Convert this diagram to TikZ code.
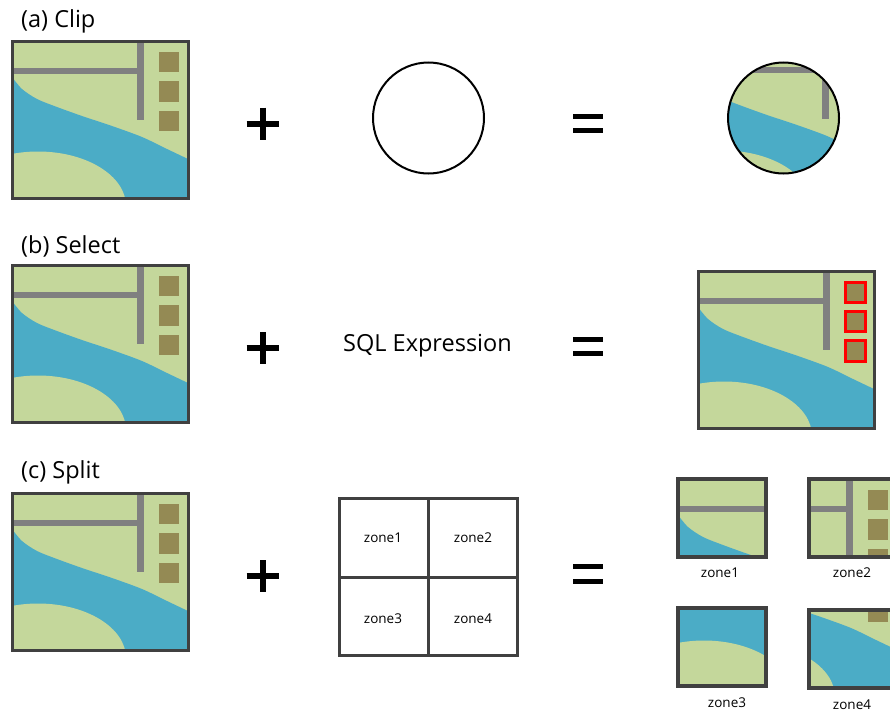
\documentclass[tikz,border=0pt]{standalone}
\usepackage{fontspec}
\setmainfont{Open Sans}
\definecolor{landgreen}{HTML}{C4D79B}
\definecolor{waterblue}{HTML}{4BACC6}
\definecolor{roadgray}{HTML}{808080}
\definecolor{bldgolive}{HTML}{948A54}
\definecolor{framegray}{HTML}{404040}

% One map tile, 176 x 157, origin at its top-left corner (y grows downward)
\newcommand\maptile{%
  \fill[landgreen] (0,0) rectangle (176,157);
  \fill[waterblue] (0,36) -- plot[smooth,tension=0.5] coordinates
    {(0,36) (10,48) (25,58) (45,66) (70,75) (100,85) (130,96)
     (155,108) (176,118)}
    -- (176,157) -- (0,157) -- cycle;
  \fill[landgreen] (26,165) ellipse [x radius=88, y radius=54.5];
  \fill[roadgray] (0,27) rectangle (132,33);
  \fill[roadgray] (125,0) rectangle (132,79);
  \fill[bldgolive] (147,11) rectangle (167,31);
  \fill[bldgolive] (147,40) rectangle (167,60.5);
  \fill[bldgolive] (147,69.5) rectangle (167,90);
}

\begin{document}
\begin{tikzpicture}[x=1pt,y=-1pt,
  tileframe/.style={draw=framegray,line width=3pt},
  zoneframe/.style={draw=framegray,line width=3.5pt},
  symbar/.style={line width=6pt,black},
  eqbar/.style={line width=5pt,black},
  title/.style={anchor=base west,inner sep=0pt,font=\fontsize{23.5}{28}\selectfont},
  zonelabel/.style={inner sep=0pt,font=\fontsize{13.5}{16}\selectfont},
  gridline/.style={draw=framegray,line width=3pt},
  pick/.style={draw=red,line width=3pt}]
\useasboundingbox (0,0) rectangle (890,712);

% ---------- (a) Clip ----------
\node[title] (titleA) at (21,27.3) {(a) Clip};
\begin{scope}[shift={(12,41)}]
  \clip (0,0) rectangle (176,157);
  \maptile
\end{scope}
\draw[tileframe] (12,41) rectangle ++(176,157);

\draw[symbar] (246.5,123.5) -- (278.5,123.5);
\draw[symbar] (262.5,107.5) -- (262.5,139.5);

\node[circle,draw=black,line width=2pt,minimum size=111pt,inner sep=0pt]
  (clipcircle) at (428.5,118) {};

\draw[eqbar] (573,116) -- (603,116);
\draw[eqbar] (573,130.5) -- (603,130.5);

\begin{scope}
  \clip (783.5,118) circle [radius=55.5];
  \begin{scope}[shift={(697,40)}]
    \maptile
  \end{scope}
\end{scope}
\draw[black,line width=2pt] (783.5,118) circle [radius=55.5];

% ---------- (b) Select ----------
\node[title] (titleB) at (21,253) {(b) Select};
\begin{scope}[shift={(12,265)}]
  \clip (0,0) rectangle (176,157);
  \maptile
\end{scope}
\draw[tileframe] (12,265) rectangle ++(176,157);

\draw[symbar] (246.5,348) -- (278.5,348);
\draw[symbar] (262.5,332) -- (262.5,364);

\node[anchor=base west,inner sep=0pt,font=\fontsize{23.5}{28}\selectfont]
  (sqlexpr) at (343,351.7) {SQL Expression};

\draw[eqbar] (573,339) -- (603,339);
\draw[eqbar] (573,353.5) -- (603,353.5);

\begin{scope}[shift={(698,271)}]
  \begin{scope}
    \clip (0,0) rectangle (176,157);
    \maptile
  \end{scope}
  \draw[pick] (147,11) rectangle (167,31);
  \draw[pick] (147,40) rectangle (167,60.5);
  \draw[pick] (147,69.5) rectangle (167,90);
\end{scope}
\draw[tileframe] (698,271) rectangle ++(176,157);

% ---------- (c) Split ----------
\node[title] (titleC) at (21,478) {(c) Split};
\begin{scope}[shift={(12,493)}]
  \clip (0,0) rectangle (176,157);
  \maptile
\end{scope}
\draw[tileframe] (12,493) rectangle ++(176,157);

\draw[symbar] (246.5,576) -- (278.5,576);
\draw[symbar] (262.5,560) -- (262.5,592);

% zone grid
\draw[gridline] (339,498) rectangle (517,655);
\draw[gridline] (428,498) -- (428,655);
\draw[gridline] (339,577) -- (517,577);
\node[zonelabel] (gz1) at (383,538) {zone1};
\node[zonelabel] (gz2) at (473,538) {zone2};
\node[zonelabel] (gz3) at (383,619) {zone3};
\node[zonelabel] (gz4) at (473,619) {zone4};

\draw[eqbar] (573,566.5) -- (603,566.5);
\draw[eqbar] (573,581) -- (603,581);

% split pieces: each shows one quarter of the tile
\begin{scope}
  \clip (678,479) rectangle ++(88,78);
  \begin{scope}[shift={(678,479)}] \maptile \end{scope}
\end{scope}
\draw[zoneframe] (678,479) rectangle ++(88,78);

\begin{scope}
  \clip (809,479) rectangle ++(88,78);
  \begin{scope}[shift={(721,479)}] \maptile \end{scope}
\end{scope}
\draw[zoneframe] (809,479) rectangle ++(88,78);

\begin{scope}
  \clip (678,608) rectangle ++(88,78);
  \begin{scope}[shift={(678,530)}] \maptile \end{scope}
\end{scope}
\draw[zoneframe] (678,608) rectangle ++(88,78);

\begin{scope}
  \clip (809,610) rectangle ++(88,78);
  \begin{scope}[shift={(721,532)}] \maptile \end{scope}
\end{scope}
\draw[zoneframe] (809,610) rectangle ++(88,78);

\node[zonelabel] (pz1) at (720,573) {zone1};
\node[zonelabel] (pz2) at (852,573) {zone2};
\node[zonelabel] (pz3) at (727,703) {zone3};
\node[zonelabel] (pz4) at (852,705) {zone4};
\end{tikzpicture}
\end{document}
